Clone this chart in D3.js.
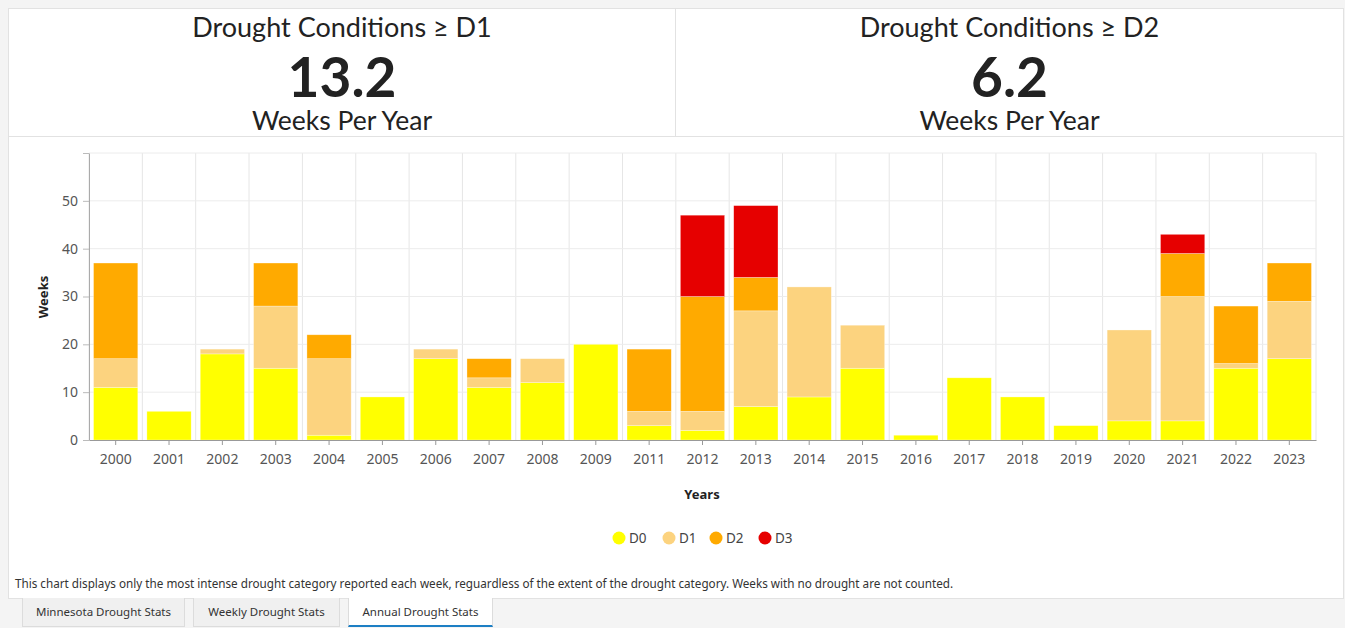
<!DOCTYPE html>
<html>
<head>
<meta charset="utf-8">
<script src="https://cdn.jsdelivr.net/npm/d3@7/dist/d3.min.js"></script>
<style>
  body { margin: 0; background: #f4f4f4; width: 1345px; height: 628px; overflow: hidden; position: relative; font-family: 'Noto Sans', sans-serif; }
  .box { position: absolute; background: #fff; border: 1px solid #e2e2e2; box-sizing: border-box; }
  .stat { text-align: center; color: #222; font-family: Lato, sans-serif; }
  .stat div { position: absolute; left: 0; right: 0; line-height: 1; }
  .stat .t { top: 4px; font-size: 27px; }
  .stat .n { top: 40px; font-size: 55px; font-weight: bold; }
  .stat .s { top: 98px; font-size: 26.5px; }
  .tab { position: absolute; top: 598px; height: 29px; box-sizing: border-box; background: #f0f0f0; border: 1px solid #dcdcdc; border-top: none; font-size: 11.5px; color: #333; line-height: 27px; text-align: center; }
  .tab.active { background: #fff; border-bottom: 2px solid #1d7fc4; }
  svg { position: absolute; left: 0; top: 0; }
</style>
</head>
<body>
<div class="box stat" style="left:8px;top:8px;width:668px;height:129px;">
  <div class="t">Drought Conditions ≥ D1</div><div class="n">13.2</div><div class="s">Weeks Per Year</div>
</div>
<div class="box stat" style="left:675px;top:8px;width:669px;height:129px;">
  <div class="t">Drought Conditions ≥ D2</div><div class="n">6.2</div><div class="s">Weeks Per Year</div>
</div>
<div class="box" style="left:8px;top:136px;width:1336px;height:463px;"></div>
<div class="tab" style="left:22px;width:163px;">Minnesota Drought Stats</div>
<div class="tab" style="left:193px;width:147px;">Weekly Drought Stats</div>
<div class="tab active" style="left:348px;width:145px;">Annual Drought Stats</div>
<script>
const years = ['2000','2001','2002','2003','2004','2005','2006','2007','2008','2009','2011','2012',
  '2013','2014','2015','2016','2017','2018','2019','2020','2021','2022','2023'];
const weeksD0 = [11, 6, 18, 15, 1, 9, 17, 11, 12, 20, 3, 2, 7, 9, 15, 1, 13, 9, 3, 4, 4, 15, 17];
const weeksD1 = [6, 0, 1, 13, 16, 0, 2, 2, 5, 0, 3, 4, 20, 23, 9, 0, 0, 0, 0, 19, 26, 1, 12];
const weeksD2 = [20, 0, 0, 9, 5, 0, 0, 4, 0, 0, 13, 24, 7, 0, 0, 0, 0, 0, 0, 0, 9, 12, 8];
const weeksD3 = [0, 0, 0, 0, 0, 0, 0, 0, 0, 0, 0, 17, 15, 0, 0, 0, 0, 0, 0, 0, 4, 0, 0];
const categories = ['D0', 'D1', 'D2', 'D3'];
const colors = ['#ffff00', '#fcd37f', '#ffaa00', '#e60000'];
const yTicks = [0, 10, 20, 30, 40, 50, 60];

const note = 'This chart displays only the most intense drought category reported each week, reguardless of the extent of the drought category. Weeks with no drought are not counted.';

const svg = d3.select('body').append('svg')
  .attr('width', 1345)
  .attr('height', 628);

const x = d3.scaleBand().domain(years).range([89, 1316]).paddingInner(0.17).paddingOuter(0.085);
const y = d3.scaleLinear().domain([0, 60]).range([440, 153]);

const table = years.map((yr, i) => ({ year: yr, D0: weeksD0[i], D1: weeksD1[i], D2: weeksD2[i], D3: weeksD3[i] }));
const stacked = d3.stack().keys(categories)(table);

// grid
const bounds = years.map(yr => x(yr) - x.step() * x.paddingInner() / 2).concat([1316]);
svg.append('g').selectAll('line').data(bounds).enter().append('line')
  .attr('x1', d => d).attr('x2', d => d)
  .attr('y1', 153).attr('y2', 440)
  .attr('stroke', '#e6e6e6');
svg.append('g').selectAll('line').data(yTicks.slice(1)).enter().append('line')
  .attr('x1', 89).attr('x2', 1316)
  .attr('y1', d => y(d)).attr('y2', d => y(d))
  .attr('stroke', '#ececec');

// bars
svg.append('g').selectAll('g').data(stacked).enter().append('g')
  .attr('fill', (d, i) => colors[i])
  .selectAll('rect').data(d => d).enter().append('rect')
  .attr('x', d => x(d.data.year))
  .attr('width', x.bandwidth())
  .attr('y', d => y(d[1]))
  .attr('height', d => y(d[0]) - y(d[1]))
  .attr('stroke', '#fff')
  .attr('stroke-opacity', 0.5)
  .attr('stroke-width', 0.6);

// axes
const xAxis = svg.append('g')
  .attr('transform', 'translate(0,440)')
  .call(d3.axisBottom(x).tickSize(5).tickSizeOuter(0));
xAxis.select('.domain').attr('stroke', '#999');
xAxis.selectAll('.tick line').attr('stroke', '#999');
xAxis.selectAll('text').attr('fill', '#555').attr('font-size', 14).attr('dy', '1.15em')
  .attr('font-family', 'Noto Sans');

const yAxis = svg.append('g')
  .attr('transform', 'translate(89,0)')
  .call(d3.axisLeft(y).tickValues(yTicks).tickSize(6).tickSizeOuter(0)
    .tickFormat(d => d === 60 ? '' : d));
yAxis.select('.domain').attr('stroke', '#aaa');
yAxis.selectAll('.tick line').attr('stroke', '#bbb');
yAxis.selectAll('text').attr('fill', '#555').attr('font-size', 14).attr('x', -11)
  .attr('font-family', 'Noto Sans');

svg.append('text')
  .attr('transform', 'translate(48,297) rotate(-90)')
  .attr('text-anchor', 'middle')
  .attr('font-size', 13).attr('font-weight', 'bold').attr('fill', '#222')
  .text('Weeks');

svg.append('text')
  .attr('x', 702).attr('y', 499)
  .attr('text-anchor', 'middle')
  .attr('font-size', 13).attr('font-weight', 'bold').attr('fill', '#222')
  .text('Years');

// legend
const legendX = [619, 669, 716, 765];
const legend = svg.append('g').selectAll('g').data(categories).enter().append('g')
  .attr('transform', (d, i) => 'translate(' + legendX[i] + ',538)');
legend.append('circle').attr('r', 6.5).attr('fill', (d, i) => colors[i]);
legend.append('text').attr('x', 10).attr('dy', '0.35em')
  .attr('font-size', 13.5).attr('fill', '#444').text(d => d);

svg.append('text')
  .attr('x', 15).attr('y', 588)
  .attr('font-size', 11.7).attr('fill', '#333')
  .text(note);
</script>
</body>
</html>
